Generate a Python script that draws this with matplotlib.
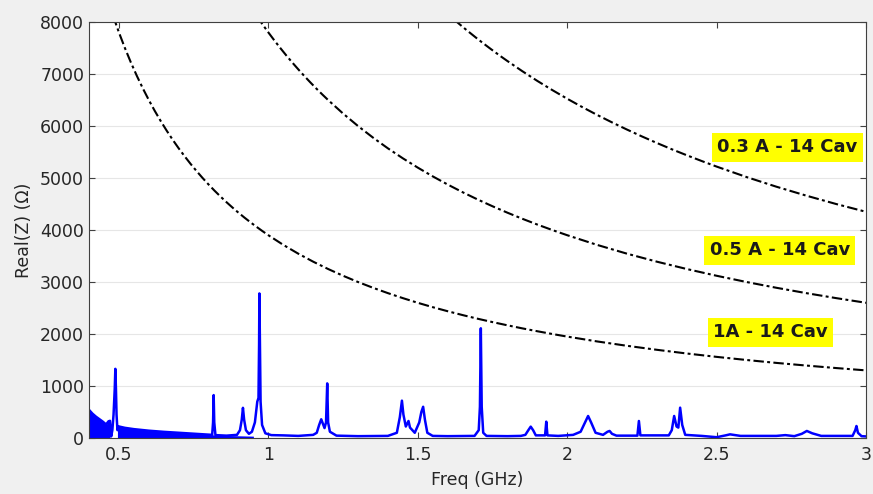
import matplotlib
matplotlib.use("Agg")
import matplotlib.pyplot as plt

plt.rcParams['font.family'] = ['DejaVu Sans']

# Real part of the longitudinal impedance spectrum (GHz, Ohm)
freq_ghz = [0.400, 0.411, 0.423, 0.435, 0.446, 0.457, 0.465, 0.470, 0.474, 0.478,
            0.482, 0.486, 0.488, 0.490, 0.492, 0.495, 0.497, 0.52, 0.55, 0.60,
            0.65, 0.70, 0.75, 0.79, 0.812, 0.815, 0.817, 0.819, 0.823, 0.86,
            0.895, 0.905, 0.911, 0.915, 0.919, 0.925, 0.935, 0.945, 0.955, 0.963,
            0.967, 0.969, 0.970, 0.972, 0.974, 0.979, 0.99, 1.01, 1.05, 1.10,
            1.15, 1.162, 1.170, 1.177, 1.184, 1.188, 1.193, 1.197, 1.200, 1.206,
            1.228, 1.30, 1.40, 1.430, 1.440, 1.447, 1.452, 1.460, 1.469, 1.474,
            1.490, 1.505, 1.512, 1.518, 1.524, 1.532, 1.55, 1.60, 1.69, 1.704,
            1.708, 1.711, 1.714, 1.719, 1.73, 1.80, 1.845, 1.86, 1.870, 1.878,
            1.886, 1.895, 1.926, 1.930, 1.934, 1.97, 2.02, 2.045, 2.060, 2.070,
            2.080, 2.095, 2.12, 2.135, 2.142, 2.150, 2.165, 2.235, 2.240, 2.245,
            2.34, 2.35, 2.358, 2.366, 2.372, 2.378, 2.385, 2.395, 2.45, 2.50,
            2.53, 2.545, 2.58, 2.70, 2.73, 2.76, 2.785, 2.802, 2.82, 2.85,
            2.955, 2.964, 2.968, 2.973, 2.985, 3.00]
real_z = [540, 470, 410, 360, 314, 260, 320, 330, 30, 150,
          450, 950, 1330, 950, 450, 150, 225, 195, 170, 140,
          118, 100, 82, 68, 60, 300, 825, 300, 55, 45,
          60, 150, 350, 580, 350, 150, 80, 120, 300, 700,
          770, 1800, 2780, 1800, 700, 250, 90, 55, 50, 40,
          60, 100, 250, 360, 250, 190, 300, 1050, 300, 120,
          45, 35, 40, 100, 400, 718, 450, 220, 327, 200,
          100, 300, 500, 600, 350, 100, 40, 35, 40, 150,
          600, 2110, 600, 100, 40, 35, 40, 60, 150, 218,
          150, 50, 50, 314, 50, 40, 60, 120, 300, 423,
          300, 100, 60, 120, 135, 80, 45, 45, 327, 50,
          50, 150, 423, 220, 200, 583, 250, 60, 40, 15,
          50, 70, 40, 40, 55, 35, 80, 135, 90, 40,
          40, 150, 230, 100, 35, 30]

# Fast-oscillating low-frequency content, shown by its envelope
band1_freq = [0.400, 0.411, 0.423, 0.435, 0.446, 0.457, 0.465, 0.470]
band1_top = [540, 470, 410, 360, 314, 260, 320, 330]
band2_freq = [0.495, 0.497, 0.52, 0.55, 0.60, 0.65, 0.70, 0.75, 0.79, 0.85, 0.90, 0.95]
band2_top = [150, 225, 195, 170, 140, 118, 100, 82, 68, 50, 42, 35]

# Instability thresholds for 14 cavities at three beam currents
thr_1a_freq = [0.48, 0.50, 0.52, 0.54, 0.56, 0.58, 0.60, 0.62, 0.64, 0.66, 0.68, 0.70,
               0.72, 0.74, 0.76, 0.78, 0.80, 0.82, 0.84, 0.86, 0.88, 0.90, 0.92, 0.94,
               0.96, 0.98, 1.00, 1.05, 1.10, 1.15, 1.20, 1.25, 1.30, 1.35, 1.40, 1.45,
               1.50, 1.55, 1.60, 1.65, 1.70, 1.75, 1.80, 1.85, 1.90, 1.95, 2.00, 2.1,
               2.2, 2.3, 2.4, 2.5, 2.6, 2.7, 2.8, 2.9, 3.0]
thr_1a = [8125, 7800, 7500, 7222, 6964, 6724, 6500, 6290, 6094, 5909, 5735, 5571,
          5417, 5270, 5132, 5000, 4875, 4756, 4643, 4535, 4432, 4333, 4239, 4149,
          4063, 3980, 3900, 3714, 3545, 3391, 3250, 3120, 3000, 2889, 2786, 2690,
          2600, 2516, 2438, 2364, 2294, 2229, 2167, 2108, 2053, 2000, 1950, 1857,
          1773, 1696, 1625, 1560, 1500, 1444, 1393, 1345, 1300]
thr_05a_freq = [0.96, 0.98, 1.00, 1.02, 1.04, 1.06, 1.08, 1.10, 1.12, 1.14, 1.16, 1.18,
                1.20, 1.25, 1.30, 1.35, 1.40, 1.45, 1.50, 1.55, 1.60, 1.65, 1.70, 1.75,
                1.80, 1.85, 1.90, 1.95, 2.00, 2.1, 2.2, 2.3, 2.4, 2.5, 2.6, 2.7,
                2.8, 2.9, 3.0]
thr_05a = [8125, 7959, 7800, 7647, 7500, 7358, 7222, 7091, 6964, 6842, 6724, 6610,
           6500, 6240, 6000, 5778, 5571, 5379, 5200, 5032, 4875, 4727, 4588, 4457,
           4333, 4216, 4105, 4000, 3900, 3714, 3545, 3391, 3250, 3120, 3000, 2889,
           2786, 2690, 2600]
thr_03a_freq = [1.62, 1.64, 1.66, 1.68, 1.70, 1.72, 1.74, 1.76, 1.78, 1.80, 1.85, 1.90,
                1.95, 2.00, 2.05, 2.1, 2.15, 2.2, 2.25, 2.3, 2.35, 2.4, 2.45, 2.5,
                2.6, 2.7, 2.8, 2.9, 3.0]
thr_03a = [8056, 7957, 7861, 7768, 7676, 7587, 7500, 7415, 7331, 7250, 7054, 6868,
           6692, 6525, 6366, 6214, 6070, 5932, 5800, 5674, 5553, 5438, 5327, 5220,
           5019, 4833, 4661, 4500, 4350]

labels = ["0.3 A - 14 Cav", "0.5 A - 14 Cav", "1A - 14 Cav"]
label_pos = [(2.736, 5590), (2.712, 3610), (2.680, 2030)]

x_ticks = [0.5, 1, 1.5, 2, 2.5, 3]
x_ticklabels = ["0.5", "1", "1.5", "2", "2.5", "3"]
y_ticks = [0, 1000, 2000, 3000, 4000, 5000, 6000, 7000, 8000]

fig = plt.figure(figsize=(8.73, 4.94), dpi=100, facecolor='#f0f0f0')
ax = fig.add_axes([0.102, 0.1134, 0.890, 0.842])
ax.set_facecolor('white')

blue = '#0000ff'
ax.fill_between(band1_freq, 0, band1_top, color=blue, lw=0)
ax.fill_between(band2_freq, 0, band2_top, color=blue, lw=0)
ax.plot(freq_ghz, real_z, color=blue, lw=1.8, solid_joinstyle='round')

dash = (0, (5, 1.6, 1.4, 1.6))
for fx, fy in [(thr_1a_freq, thr_1a), (thr_05a_freq, thr_05a), (thr_03a_freq, thr_03a)]:
    ax.plot(fx, fy, color='black', lw=1.5, linestyle=dash)

for txt, (lx, ly) in zip(labels, label_pos):
    ax.text(lx, ly, txt, ha='center', va='center', fontsize=13, fontweight='bold',
            color='#1a1a1a',
            bbox=dict(boxstyle='square,pad=0.3', facecolor='#ffff00', edgecolor='none'))

ax.set_xlim(0.4, 3.0)
ax.set_ylim(0, 8000)
ax.set_xticks(x_ticks)
ax.set_xticklabels(x_ticklabels)
ax.set_yticks(y_ticks)
ax.yaxis.grid(True, color='#e6e6e6', lw=0.8)
ax.set_axisbelow(True)

ax.tick_params(direction='in', length=4, width=0.8, colors='#404040',
               labelsize=12.5, labelcolor='#262626', top=True, right=True)
ax.tick_params(axis='x', pad=6)
for sp in ax.spines.values():
    sp.set_color('#404040')
    sp.set_linewidth(0.8)

ax.set_xlabel('Freq (GHz)', fontsize=12.5, color='#262626', labelpad=5)
ax.set_ylabel('Real(Z) (Ω)', fontsize=12.5, color='#262626', labelpad=5)

fig.savefig('out.png', dpi=100, facecolor=fig.get_facecolor())
